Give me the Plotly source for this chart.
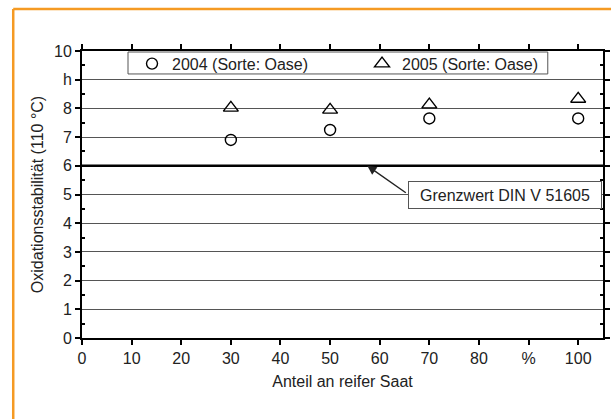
import plotly.graph_objects as go

# Werte
anteil = [30, 50, 70, 100]
stab_2004 = [6.9, 7.25, 7.65, 7.65]
stab_2005 = [8.02, 7.95, 8.13, 8.33]
grenzwert = 6

x_tickvals = [0, 10, 20, 30, 40, 50, 60, 70, 80, 90, 100]
x_ticktext = ['0', '10', '20', '30', '40', '50', '60', '70', '80', '%', '100']
y_tickvals = [0, 1, 2, 3, 4, 5, 6, 7, 8, 9, 10]
y_ticktext = ['0', '1', '2', '3', '4', '5', '6', '7', '8', 'h', '10']

font_col = '#222222'
orange = '#f59a23'
fsize = 16

fig = go.Figure()
fig.add_trace(go.Scatter(
    x=anteil, y=stab_2004, mode='markers', name='2004 (Sorte: Oase)',
    marker=dict(symbol='circle-open', size=11, color='black', line=dict(width=1.4))
))
fig.add_trace(go.Scatter(
    x=anteil, y=stab_2005, mode='markers', name='2005 (Sorte: Oase)',
    marker=dict(symbol='triangle-up-open', size=13, color='black', line=dict(width=1.4))
))

# Grenzwertlinie
fig.add_shape(type='line', xref='paper', yref='y', x0=0, x1=1, y0=grenzwert, y1=grenzwert,
              line=dict(color='black', width=2.5), layer='above')

# orangener Rahmen (nur oben und links sichtbar)
fig.add_shape(type='line', xref='paper', yref='paper', x0=-0.132, x1=1.05, y0=1.146, y1=1.146,
              line=dict(color=orange, width=2.5), layer='below')
fig.add_shape(type='line', xref='paper', yref='paper', x0=-0.132, x1=-0.132, y0=-0.3, y1=1.146,
              line=dict(color=orange, width=2.5), layer='below')

# Legendenrahmen
fig.add_shape(type='rect', xref='paper', yref='paper', x0=0.0883, x1=0.894, y0=0.92, y1=0.9965,
              line=dict(color='#555555', width=1), fillcolor='rgba(0,0,0,0)')

# Pfeil zum Grenzwert
fig.add_annotation(x=57.5, y=grenzwert, ax=40, ay=28, axref='pixel', ayref='pixel', text='',
                   showarrow=True, arrowhead=2, arrowsize=1.3, arrowwidth=1.4, arrowcolor='#222222')
fig.add_annotation(x=65.6, y=4.97, xanchor='left', text='Grenzwert DIN V 51605', showarrow=False,
                   font=dict(size=fsize, color=font_col), bgcolor='white', width=184, height=18,
                   bordercolor='#555555', borderwidth=1, borderpad=4)

fig.update_xaxes(
    range=[0, 105], tickvals=x_tickvals, ticktext=x_ticktext,
    showgrid=False, zeroline=False, automargin=False,
    showline=True, linecolor='black', linewidth=2, mirror='ticks',
    ticks='outside', ticklen=5, tickwidth=2, tickcolor='black',
    tickfont=dict(size=fsize, color=font_col),
    title=dict(text='Anteil an reifer Saat', font=dict(size=fsize, color=font_col), standoff=10)
)
fig.update_yaxes(
    range=[0, 10], tickvals=y_tickvals, ticktext=y_ticktext,
    showgrid=True, gridcolor='#555555', gridwidth=1, zeroline=False, automargin=False,
    showline=True, linecolor='black', linewidth=2, mirror='ticks',
    ticks='outside', ticklen=5, tickwidth=2, tickcolor='black',
    minor=dict(tickvals=[0.5, 1.5, 2.5, 3.5, 4.5, 5.5, 6.5, 7.5, 8.5, 9.5],
               ticks='inside', ticklen=3, tickcolor='black', showgrid=False),
    tickfont=dict(size=fsize, color=font_col),
    title=dict(text='Oxidationsstabilität (110 °C)', font=dict(size=fsize, color=font_col), standoff=6)
)

fig.update_layout(
    width=611, height=419,
    margin=dict(l=82, r=8, t=51, b=81),
    paper_bgcolor='white', plot_bgcolor='white',
    font=dict(family='Liberation Sans, Arial, sans-serif', size=fsize, color=font_col),
    showlegend=True,
    legend=dict(orientation='h', x=0.096, y=1.015, xanchor='left', yanchor='top',
                entrywidth=185, entrywidthmode='pixels', bgcolor='rgba(0,0,0,0)',
                font=dict(size=fsize, color=font_col), itemclick=False),
)

fig.write_html('out.html', config={'displayModeBar': False},
               post_script="document.body.style.margin='0';")
